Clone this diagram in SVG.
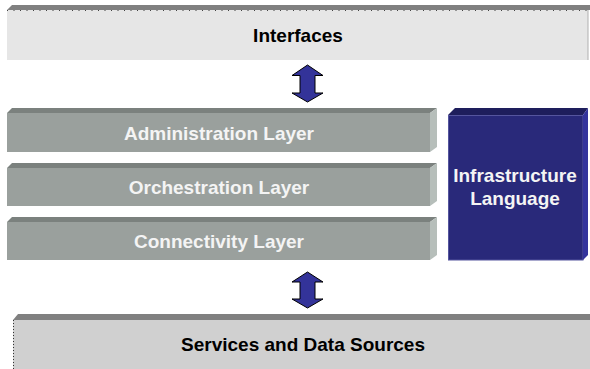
<svg xmlns="http://www.w3.org/2000/svg" width="590" height="369" viewBox="0 0 590 369">
<style>
.t{font-family:"Liberation Sans",Arial,sans-serif;font-weight:bold;font-size:19px;text-anchor:middle}
.dark{fill:#000}
.light{fill:#f4f4f4}
.lf{fill:#9aa09d}
.lt{fill:#7b817e}
.ls{fill:#b6beba}
.arr{fill:#333399;stroke:#000;stroke-width:1}
</style>
<rect width="590" height="369" fill="#fff"/>
<g id="interfaces">
<polygon points="7,10 12,5 590,5 590,10" fill="#808080"/>
<rect x="7" y="10" width="581" height="50" fill="#e6e6e6"/>
<line x1="588" y1="10" x2="588" y2="60" stroke="#b0b0b0" stroke-width="1"/>
<line x1="7" y1="10.5" x2="588" y2="10.5" stroke="#444" stroke-width="1" stroke-dasharray="1,5.5"/>
<text class="t dark" x="298" y="42">Interfaces</text>
</g>
<g id="administration">
<polygon class="lt" points="7,113 12,108 437,108 430,113"/>
<rect class="lf" x="7" y="113" width="423" height="39"/>
<polygon class="ls" points="430,113 437,108 437,147 430,152"/>
<text class="t light" x="219" y="140">Administration Layer</text>
</g>
<g id="orchestration">
<polygon class="lt" points="7,168 12,163 437,163 430,168"/>
<rect class="lf" x="7" y="168" width="423" height="38"/>
<polygon class="ls" points="430,168 437,163 437,201 430,206"/>
<text class="t light" x="219" y="194">Orchestration Layer</text>
</g>
<g id="connectivity">
<polygon class="lt" points="7,222 12,217 437,217 430,222"/>
<rect class="lf" x="7" y="222" width="423" height="38"/>
<polygon class="ls" points="430,222 437,217 437,255 430,260"/>
<text class="t light" x="219" y="248">Connectivity Layer</text>
</g>
<g id="infrastructure">
<polygon points="448,115 455,108 588,108 583,115" fill="#1e1e5c"/>
<rect x="448.5" y="115.5" width="134.5" height="144.5" fill="#29297a" stroke="#55559e" stroke-width="1"/>
<polygon points="583,115 588,108 588,255 583,260" fill="#34349c"/>
<text class="t light" x="515" y="182">Infrastructure</text>
<text class="t light" x="515" y="205">Language</text>
</g>
<g id="services">
<polygon points="13,320 18,314 590,314 590,320" fill="#808080"/>
<rect x="13" y="320" width="577" height="49" fill="#d0d0d0"/>
<line x1="13.5" y1="320" x2="13.5" y2="369" stroke="#333" stroke-width="1" stroke-dasharray="1,2"/>
<text class="t dark" x="303" y="351">Services and Data Sources</text>
</g>
<g id="connectors">
<polygon class="arr" points="307.5,65 323,75.5 315,75.5 315,93 323,93 307.5,102 292,93 300,93 300,75.5 292,75.5"/>
<polygon class="arr" points="307.5,272 323,282 315,282 315,299 323,299 307.5,308 292,299 300,299 300,282 292,282"/>
</g>
</svg>
